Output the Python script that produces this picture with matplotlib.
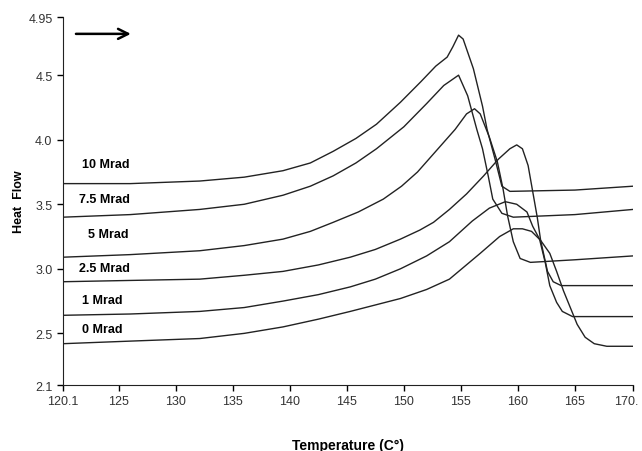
import matplotlib
matplotlib.use("Agg")
import matplotlib.pyplot as plt
from matplotlib.transforms import ScaledTranslation

plt.rcParams['font.family'] = ['Liberation Sans', 'DejaVu Sans']

# curves (temperature C, heat flow)
t_10 = [120.1, 126, 132.1, 136, 139.4, 141.8, 143.8, 145.8, 147.6, 149.7, 151.5, 152.8,
        153.8, 154.3, 154.8, 155.2, 156.1, 156.9, 157.3, 158.0, 158.6, 159.3, 165, 170.1]
h_10 = [3.66, 3.66, 3.68, 3.71, 3.76, 3.82, 3.91, 4.01, 4.12, 4.29, 4.45, 4.57,
        4.64, 4.72, 4.81, 4.78, 4.55, 4.26, 4.08, 3.85, 3.64, 3.60, 3.61, 3.64]

t_75 = [120.1, 126, 132.1, 136, 139.4, 141.8, 143.8, 145.8, 147.6, 150.0, 152.0, 153.5,
        154.8, 155.6, 156.4, 156.9, 157.4, 157.8, 158.6, 159.6, 165, 170.1]
h_75 = [3.40, 3.42, 3.46, 3.50, 3.57, 3.64, 3.72, 3.82, 3.93, 4.10, 4.28, 4.42,
        4.50, 4.34, 4.08, 3.93, 3.72, 3.54, 3.43, 3.40, 3.42, 3.46]

t_5 = [120.1, 126, 132.1, 136, 139.4, 141.8, 143.8, 146.0, 148.2, 149.8, 151.2, 153.0,
       154.5, 155.5, 156.2, 156.7, 157.5, 158.2, 158.7, 159.1, 159.6, 160.2, 161.1, 165, 170.1]
h_5 = [3.09, 3.11, 3.14, 3.18, 3.23, 3.29, 3.36, 3.44, 3.54, 3.64, 3.75, 3.93,
       4.08, 4.20, 4.24, 4.20, 4.02, 3.83, 3.62, 3.41, 3.21, 3.08, 3.05, 3.07, 3.10]

t_25 = [120.1, 126, 132.1, 136, 139.4, 142.5, 145.3, 147.5, 149.7, 151.4, 152.6, 154.0,
        155.5, 157.0, 158.3, 159.3, 159.9, 160.4, 160.9, 161.3, 161.7, 162.0, 162.6,
        163.1, 163.8, 167, 170.1]
h_25 = [2.90, 2.91, 2.92, 2.95, 2.98, 3.03, 3.09, 3.15, 3.23, 3.30, 3.36, 3.46,
        3.58, 3.72, 3.85, 3.93, 3.96, 3.93, 3.80, 3.60, 3.40, 3.22, 2.98,
        2.90, 2.87, 2.87, 2.87]

t_1 = [120.1, 126, 132.1, 136, 139.4, 142.5, 145.3, 147.5, 149.7, 152.0, 154.0, 156.0,
       157.5, 158.9, 159.9, 160.8, 161.3, 161.9, 162.4, 162.8, 163.4, 163.9, 164.8, 170.1]
h_1 = [2.64, 2.65, 2.67, 2.70, 2.75, 2.80, 2.86, 2.92, 3.00, 3.10, 3.21, 3.37,
       3.47, 3.52, 3.50, 3.44, 3.33, 3.23, 3.05, 2.87, 2.74, 2.67, 2.63, 2.63]

t_0 = [120.1, 126, 132.1, 136, 139.4, 142.5, 145.3, 147.5, 149.7, 152.0, 154.0, 156.7,
       158.4, 159.6, 160.4, 161.2, 162.0, 162.8, 163.4, 164.0, 164.6, 165.2, 165.9,
       166.7, 167.8, 170.1]
h_0 = [2.42, 2.44, 2.46, 2.50, 2.55, 2.61, 2.67, 2.72, 2.77, 2.84, 2.92, 3.12,
       3.25, 3.31, 3.31, 3.29, 3.22, 3.12, 2.98, 2.83, 2.70, 2.57, 2.47,
       2.42, 2.40, 2.40]

doses = ['10 Mrad', '7.5 Mrad', '5 Mrad', '2.5 Mrad', '1 Mrad', '0 Mrad']
label_t = [121.8, 121.5, 122.3, 121.5, 121.8, 121.8]
label_h = [3.81, 3.54, 3.27, 3.01, 2.76, 2.53]

x_ticks = [120.1, 125, 130, 135, 140, 145, 150, 155, 160, 165, 170.1]
x_labels = ['120.1', '125', '130', '135', '140', '145', '150', '155', '160', '165', '170.']
y_ticks = [2.1, 2.5, 3.0, 3.5, 4.0, 4.5, 4.95]
y_labels = ['2.1', '2.5', '3.0', '3.5', '4.0', '4.5', '4.95']

fig = plt.figure(figsize=(6.42, 4.52), dpi=100)
ax = fig.add_axes([0.098, 0.146, 0.888, 0.814])

for t, h in [(t_10, h_10), (t_75, h_75), (t_5, h_5), (t_25, h_25), (t_1, h_1), (t_0, h_0)]:
    ax.plot(t, h, color='#222222', lw=1.0)

for name, tx, hy in zip(doses, label_t, label_h):
    ax.text(tx, hy, name, fontsize=9, fontweight='bold', va='center', ha='left')

ax.annotate('', xy=(126.3, 4.82), xytext=(121.0, 4.82),
            arrowprops=dict(arrowstyle='->', color='black', lw=1.8, mutation_scale=18))

ax.set_xlim(120.1, 170.1)
ax.set_ylim(2.1, 4.95)
ax.set_xticks(x_ticks)
ax.set_xticklabels(x_labels)
ax.set_yticks(y_ticks)
ax.set_yticklabels(y_labels)
ax.tick_params(labelsize=9, labelcolor='#333333', length=4, width=1, direction='out')
for s in ['top', 'right']:
    ax.spines[s].set_visible(False)
for s in ['left', 'bottom']:
    ax.spines[s].set_color('#222222')

# last tick label sits at the figure edge; nudge it left so it stays inside
last = ax.get_xticklabels()[-1]
last.set_transform(last.get_transform() + ScaledTranslation(-5 / 72, 0, fig.dpi_scale_trans))

ax.set_xlabel('Temperature (C°)', fontsize=10, fontweight='bold', labelpad=22)
ax.set_ylabel('Heat  Flow', fontsize=9, fontweight='bold', labelpad=2)

fig.savefig('out.png', dpi=100)
